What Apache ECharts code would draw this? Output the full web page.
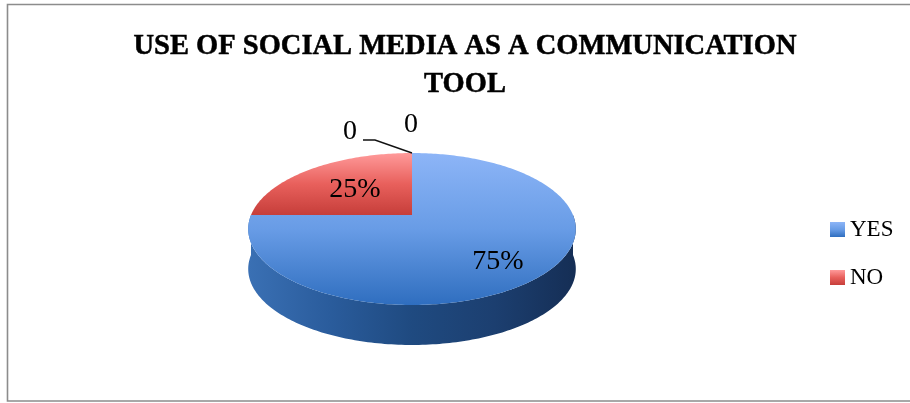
<!DOCTYPE html>
<html><head><meta charset="utf-8">
<style>html,body{margin:0;padding:0;background:#fff}#c{width:910px;height:403px}</style>
<script src="https://cdn.jsdelivr.net/npm/echarts@6/dist/echarts.min.js"></script>
</head><body><div id="c"></div>
<script>
const titleText = 'USE OF SOCIAL MEDIA AS A COMMUNICATION\nTOOL';
const categories = ['YES', 'NO'];
const values = [75, 25];
const zeroLabels = [0, 0];

const FONT = '"Liberation Serif", serif';
const P = {cx: 412, cy: 215, rx: 161, ry: 73.4, k: 0.184, depth: 40};
const total = values.reduce((a, b) => a + b, 0);

// value (share of the total, clockwise from 12 o'clock) -> perspective ellipse point
function pt(share, shift) {
  const a = share * 2 * Math.PI, u = Math.sin(a), v = -Math.cos(a), w = 1 - P.k * v;
  return [P.cx + P.rx * u / w, P.cy + P.ry * v / w + (shift || 0)];
}
function arc(from, to, shift) {
  const pts = [], n = Math.max(2, Math.ceil(Math.abs(to - from) * 360));
  for (let i = 0; i <= n; i++) pts.push(pt(from + (to - from) * i / n, shift));
  return pts;
}
const grad = (x2, y2, stops) => new echarts.graphic.LinearGradient(0, 0, x2, y2,
  stops.map((c, i) => ({offset: i / (stops.length - 1), color: c})));
const faceColors = [
  grad(0, 1, ['#8db5f7', '#689ce6', '#2f6ebf']),
  grad(0, 1, ['#ff9a9a', '#e8605c', '#c63e3a'])
];
const wallColor = grad(1, 0, ['#3a70b4', '#2a5c9c', '#1f4a80', '#1c3f70', '#152e55']);
const labelShift = [[86, 47], [-57, -25]];

function sliceSeries(i) {
  const before = values.slice(0, i).reduce((a, b) => a + b, 0);
  return {
    type: 'custom', name: categories[i], coordinateSystem: 'none',
    silent: true, z: 2 + i,
    itemStyle: {color: faceColors[i]},
    data: [[values[i]]],
    renderItem(params, api) {
      const s = before / total, e = (before + api.value(0)) / total;
      const children = [];
      // side wall: only the part of the rim that faces the viewer
      const a = Math.max(s, 0.25), b = Math.min(e, 0.75);
      if (b > a) {
        children.push({type: 'polygon',
          shape: {points: arc(a, b, 0).concat(arc(b, a, P.depth))},
          style: {fill: wallColor}});
      }
      children.push({type: 'polygon',
        shape: {points: [[P.cx, P.cy]].concat(arc(s, e, 0))},
        style: {fill: faceColors[i]}});
      children.push({type: 'text',
        x: P.cx + labelShift[i][0], y: P.cy + labelShift[i][1],
        style: {text: Math.round(api.value(0) / total * 100) + '%',
          font: '28px ' + FONT, fill: '#000', align: 'center', verticalAlign: 'middle'}});
      return {type: 'group', children};
    }
  };
}

const zeroSeries = {
  type: 'custom', name: 'zero', coordinateSystem: 'none', silent: true, z: 6,
  data: [[zeroLabels[0], zeroLabels[1]]],
  renderItem(params, api) {
    const top = pt(0, 0);
    return {type: 'group', children: [
      {type: 'polyline', shape: {points: [[top[0] - 49, top[1] - 13], [top[0] - 37, top[1] - 13], top]},
        style: {stroke: '#111', lineWidth: 1.4, fill: null}},
      {type: 'text', x: top[0] - 62, y: top[1] - 21,
        style: {text: String(api.value(0)), font: '28px ' + FONT, fill: '#000', align: 'center', verticalAlign: 'middle'}},
      {type: 'text', x: top[0] - 1, y: top[1] - 28,
        style: {text: String(api.value(1)), font: '28px ' + FONT, fill: '#000', align: 'center', verticalAlign: 'middle'}}
    ]};
  }
};

const chart = echarts.init(document.getElementById('c'), null, {renderer: 'canvas'});
chart.setOption({
  animation: false,
  backgroundColor: '#fff',
  title: {
    text: titleText, left: 460, top: 23, textAlign: 'center',
    textStyle: {fontFamily: FONT, fontWeight: 'bold', fontSize: 28.5, lineHeight: 38, color: '#000',
      textBorderColor: '#000', textBorderWidth: 0.5}
  },
  legend: {
    data: categories, orient: 'vertical', left: 825, top: 213,
    icon: 'rect', itemWidth: 15, itemHeight: 15, itemGap: 25, selectedMode: false,
    textStyle: {fontFamily: FONT, fontSize: 23, color: '#000', padding: [0, 0, 0, 0]}
  },
  graphic: [{
    type: 'polyline', silent: true,
    shape: {points: [[910, 4.5], [7.5, 4.5], [7.5, 401], [910, 401]]},
    style: {stroke: '#8c8c8c', lineWidth: 1.6, fill: null}
  }],
  series: values.map((_, i) => sliceSeries(i)).concat([zeroSeries])
});
</script></body></html>
